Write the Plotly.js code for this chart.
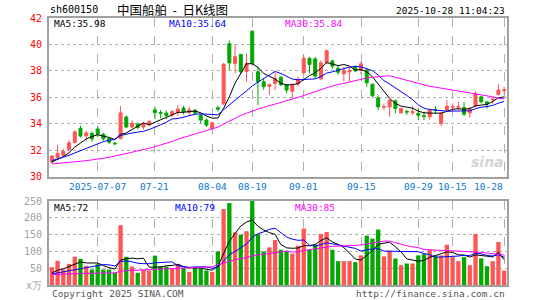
<!DOCTYPE html>
<html>
<head>
<meta charset="utf-8">
<script src="https://cdn.plot.ly/plotly-3.0.1.min.js"></script>
<style>
html,body{margin:0;padding:0;background:#fff;}
#chart{width:545px;height:300px;}
</style>
</head>
<body>
<div id="chart"></div>
<script>
// ---------- data ----------
const dates = [
'2025-06-25','2025-06-26','2025-06-27','2025-06-30','2025-07-01','2025-07-02','2025-07-03','2025-07-04','2025-07-07','2025-07-08',
'2025-07-09','2025-07-10','2025-07-11','2025-07-14','2025-07-15','2025-07-16','2025-07-17','2025-07-18','2025-07-21','2025-07-22',
'2025-07-23','2025-07-24','2025-07-25','2025-07-28','2025-07-29','2025-07-30','2025-07-31','2025-08-01','2025-08-04','2025-08-05',
'2025-08-06','2025-08-07','2025-08-08','2025-08-11','2025-08-12','2025-08-19','2025-08-20','2025-08-21','2025-08-22','2025-08-25',
'2025-08-26','2025-08-27','2025-08-28','2025-08-29','2025-09-01','2025-09-02','2025-09-03','2025-09-04','2025-09-05','2025-09-08',
'2025-09-09','2025-09-10','2025-09-11','2025-09-12','2025-09-15','2025-09-16','2025-09-17','2025-09-18','2025-09-19','2025-09-22',
'2025-09-23','2025-09-24','2025-09-25','2025-09-26','2025-09-29','2025-09-30','2025-10-09','2025-10-10','2025-10-13','2025-10-14',
'2025-10-15','2025-10-16','2025-10-17','2025-10-20','2025-10-21','2025-10-22','2025-10-23','2025-10-24','2025-10-27','2025-10-28'];

const open = [
31.10,31.45,31.60,32.05,32.58,33.65,33.08,33.26,33.60,33.20,
32.88,32.52,32.88,34.50,33.75,33.98,33.75,33.90,35.04,34.85,
34.80,34.66,34.85,35.18,34.85,35.02,34.65,34.27,33.64,35.20,
35.50,40.05,38.56,39.24,37.95,41.00,37.93,37.17,36.82,37.05,
37.52,36.93,36.45,37.02,37.85,38.95,38.90,37.40,38.61,38.75,
38.18,37.78,37.92,38.30,38.05,38.06,36.98,35.95,35.25,35.27,
35.73,34.82,34.92,34.82,34.77,34.60,34.52,35.05,34.00,35.02,
35.25,35.25,35.22,34.82,35.35,36.03,35.65,35.80,36.20,36.52];
const high = [
31.60,32.40,32.10,32.75,33.50,33.85,33.45,33.40,33.80,33.30,
32.97,32.60,35.33,34.62,34.25,34.08,34.15,34.28,35.29,35.04,
35.00,35.04,35.40,35.35,35.30,35.10,34.77,34.40,34.14,35.35,
38.60,40.30,40.02,39.30,39.30,41.08,38.30,37.42,37.05,37.90,
37.60,37.00,37.05,37.55,39.20,39.07,39.05,38.80,39.62,38.85,
38.45,38.30,38.30,38.40,38.70,38.18,37.05,36.16,35.53,35.83,
35.83,35.22,35.07,35.32,35.15,34.90,35.15,35.32,34.90,35.78,
35.53,35.65,35.65,35.27,36.48,36.08,35.70,36.00,37.00,36.80];
const low = [
30.95,31.35,31.50,31.95,32.50,32.96,32.65,32.62,33.00,32.70,
32.45,32.35,32.80,33.65,33.65,33.58,33.55,33.80,34.35,34.40,
34.35,34.50,34.60,34.70,34.60,34.70,34.02,33.76,33.50,34.90,
35.40,38.05,37.80,37.80,37.17,38.40,35.40,36.54,36.16,36.55,
36.85,36.30,35.90,36.80,37.80,37.80,37.42,37.30,38.50,38.15,
37.70,37.20,37.20,37.90,37.75,36.80,36.00,35.02,35.02,34.52,
34.77,34.77,34.64,34.64,34.26,34.26,34.31,34.77,33.80,34.90,
34.90,35.02,34.57,34.46,35.27,35.53,35.15,35.50,36.16,36.24];
const close = [
31.55,31.75,31.90,32.55,33.38,33.06,33.30,32.85,33.20,32.85,
32.60,32.48,34.82,33.75,34.02,33.72,33.95,34.15,34.84,34.80,
34.62,34.91,35.10,34.90,35.05,34.80,34.27,33.89,34.07,35.10,
38.50,38.60,39.07,37.93,38.56,38.56,37.17,36.80,36.95,37.42,
36.95,36.54,36.88,37.36,38.95,38.48,37.60,38.60,39.52,38.35,
37.90,38.03,38.00,38.00,38.53,37.10,36.12,35.27,35.30,35.78,
35.15,35.15,34.88,34.90,34.64,34.55,35.02,35.00,34.77,35.32,
35.30,35.30,34.72,35.10,36.28,35.65,35.50,35.85,36.54,36.56];
// volume, 万手
const volume = [
53,72,46,63,84,78,57,46,62,46,
46,37,178,84,55,36,46,43,87,56,
55,49,62,51,39,51,49,43,39,100,
226,244,157,150,160,256,151,100,112,134,
105,102,93,117,168,105,120,152,158,105,
71,71,71,68,88,147,138,165,85,102,
79,59,64,64,88,92,105,88,88,120,
83,71,83,59,152,79,56,71,128,43];

// moving-average values at the left edge (history before the window)
const ma5Lead  = [31.10,31.30,31.50,31.80];
const ma10Lead = [31.20,31.32,31.45,31.60,31.78,31.95,32.10,32.25,32.42];
const ma30Lead = [30.95,30.98,31.01,31.05,31.10,31.15,31.20,31.25,31.30,31.38,
                  31.46,31.54,31.64,31.74,31.84,31.93,32.02,32.14,32.26,32.38,
                  32.50,32.66,32.82,32.96,33.10,33.24,33.38,33.50,33.64];
const volMa5Lead  = [36,44,48,55];
const volMa10Lead = [33,36,39,42,46,50,53,56,58];
const volMa30Lead = [31,32,32,33,34,34.5,35,35,35.5,35.5,
                     36,36,41,43,44,44,45,45.5,47,48,
                     49,49.5,50.5,51,51.5,52,53,53.5,54];

const priceTicks = [30,32,34,36,38,40,42];
const priceTickText = ['30','32','34','36','38','40','42'];
const volTicks = [0,50,100,150,200,250];
const volTickText = ['x万','50','100','150','200','250'];
const gridDates = ['2025-07-07','2025-07-21','2025-08-04','2025-08-19','2025-09-01','2025-09-15','2025-09-29','2025-10-15','2025-10-28'];
const gridLabels = ['2025-07-07','07-21','08-04','08-19','09-01','09-15','09-29','10-15','10-28'];
const priceLegend = ['MA5:35.98','MA10:35.64','MA30:35.84'];
const volLegend = ['MA5:72','MA10:79','MA30:85'];
const titleCode = 'sh600150';
const titleName = '中国船舶\u00a0\u00a0-\u00a0\u00a0日K线图';
const titleTime = '2025-10-28 11:04:23';
const footLeft = 'Copyright 2025 SINA.COM';
const footRight = 'http://finance.sina.com.cn';

// ---------- helpers ----------
function movingAvg(vals, n, lead){
  return vals.map((v,i)=>{
    if(i < n-1) return lead[i];
    let s=0; for(let k=i-n+1;k<=i;k++) s+=vals[k];
    return s/n;
  });
}
const RED='#ff5555', GREEN='#00a800';
const MONO='DejaVu Sans Mono, monospace';
const volColors = close.map((c,i)=> c>=open[i] ? RED : GREEN);

const traces = [
  {type:'candlestick', x:dates, open:open, high:high, low:low, close:close,
   xaxis:'x', yaxis:'y', whiskerwidth:0, hoverinfo:'skip',
   increasing:{line:{color:RED,width:1}, fillcolor:RED},
   decreasing:{line:{color:GREEN,width:1}, fillcolor:GREEN}},
  {type:'scatter', mode:'lines', x:dates, y:movingAvg(close,5,ma5Lead), xaxis:'x', yaxis:'y', line:{color:'#000000',width:1}, hoverinfo:'skip'},
  {type:'scatter', mode:'lines', x:dates, y:movingAvg(close,10,ma10Lead), xaxis:'x', yaxis:'y', line:{color:'#0000ff',width:1}, hoverinfo:'skip'},
  {type:'scatter', mode:'lines', x:dates, y:movingAvg(close,30,ma30Lead), xaxis:'x', yaxis:'y', line:{color:'#ff00ff',width:1}, hoverinfo:'skip'},
  {type:'bar', x:dates, y:volume, xaxis:'x2', yaxis:'y2', marker:{color:volColors, line:{width:0}}, hoverinfo:'skip'},
  {type:'scatter', mode:'lines', x:dates, y:movingAvg(volume,5,volMa5Lead), xaxis:'x2', yaxis:'y2', line:{color:'#000000',width:1}, hoverinfo:'skip'},
  {type:'scatter', mode:'lines', x:dates, y:movingAvg(volume,10,volMa10Lead), xaxis:'x2', yaxis:'y2', line:{color:'#0000ff',width:1}, hoverinfo:'skip'},
  {type:'scatter', mode:'lines', x:dates, y:movingAvg(volume,30,volMa30Lead), xaxis:'x2', yaxis:'y2', line:{color:'#ff00ff',width:1}, hoverinfo:'skip'}
];

const H = 300, T = 18, B = 15;
const plotH = H - T - B;
const py = px => (H - B - px) / plotH;   // pixel y -> paper y
const L = 49, R = 507, plotW = R - L;
const pxX = px => (px - L) / plotW;      // pixel x -> paper x

const xCommon = {
  type:'category', range:[-0.5, dates.length-0.5], tickvals:gridDates, showticklabels:false,
  showgrid:true, gridcolor:'#b0b0b0', griddash:'dash', gridwidth:1,
  showline:true, mirror:true, linecolor:'#a0a0a0', linewidth:2, zeroline:false, ticks:'', fixedrange:true
};

const annotations = [];
gridDates.forEach((d,i)=>{
  annotations.push({x:d, xref:'x', y:py(186), yref:'paper', text:gridLabels[i], showarrow:false,
    xanchor:'center', yanchor:'middle', xshift: (i===gridDates.length-1 ? -16 : 0),
    font:{family:MONO, size:9.5, color:'#0a78d0'}});
});
const legColors = ['#000000','#0000ff','#ff00ff'];
const legX = [52, 167, 283];
const volLegX = [52, 173, 293];
priceLegend.forEach((t,i)=>annotations.push({x:pxX(legX[i]), xref:'paper', y:py(23.5), yref:'paper', text:t, showarrow:false, xanchor:'left', yanchor:'middle', font:{family:MONO,size:9.5,color:legColors[i]}}));
volLegend.forEach((t,i)=>annotations.push({x:pxX(volLegX[i]), xref:'paper', y:py(207), yref:'paper', text:t, showarrow:false, xanchor:'left', yanchor:'middle', font:{family:MONO,size:9.5,color:legColors[i]}}));
annotations.push({x:pxX(48), xref:'paper', y:py(10), yref:'paper', text:titleCode, showarrow:false, xanchor:'left', yanchor:'middle', font:{family:MONO,size:10,color:'#000'}});
annotations.push({x:pxX(115), xref:'paper', y:py(9.5), yref:'paper', text:titleName, showarrow:false, xanchor:'left', yanchor:'middle', font:{family:'Noto Sans CJK SC, sans-serif',size:12.5,color:'#000'}});
annotations.push({x:pxX(507), xref:'paper', y:py(11), yref:'paper', text:titleTime, showarrow:false, xanchor:'right', yanchor:'middle', font:{family:MONO,size:9.5,color:'#000'}});
annotations.push({x:pxX(50), xref:'paper', y:py(293), yref:'paper', text:footLeft, showarrow:false, xanchor:'left', yanchor:'middle', font:{family:MONO,size:9.5,color:'#555'}});
annotations.push({x:pxX(507), xref:'paper', y:py(293), yref:'paper', text:footRight, showarrow:false, xanchor:'right', yanchor:'middle', font:{family:MONO,size:9.5,color:'#555'}});
annotations.push({x:pxX(506), xref:'paper', y:py(162), yref:'paper', text:'<b><i>sina</i></b>', showarrow:false, xanchor:'right', yanchor:'middle', font:{family:'DejaVu Sans, sans-serif',size:14,color:'#d4d4d4'}});

const layout = {
  width:545, height:300,
  margin:{l:L, r:545-R, t:T, b:B, pad:0},
  paper_bgcolor:'#ffffff', plot_bgcolor:'#ffffff',
  showlegend:false,
  font:{family:MONO, size:9.5, color:'#000'},
  boxgap:0.25, bargap:0.25,
  xaxis: Object.assign({}, xCommon, {anchor:'y', rangeslider:{visible:false}}),
  xaxis2: Object.assign({}, xCommon, {anchor:'y2', matches:'x'}),
  yaxis: {domain:[py(176.5), 1], range:[30,42], tickvals:priceTicks, ticktext:priceTickText,
    tickfont:{family:MONO,size:10,color:'#ff0000'}, showgrid:true, gridcolor:'#b0b0b0', griddash:'dot', gridwidth:1,
    showline:true, mirror:true, linecolor:'#a0a0a0', linewidth:2, zeroline:false, ticks:'', ticklabelstandoff:3, fixedrange:true},
  yaxis2: {domain:[0, py(201)], range:[0,250], tickvals:volTicks, ticktext:volTickText,
    tickfont:{family:MONO,size:10,color:'#a0a0a0'}, showgrid:true, gridcolor:'#b0b0b0', griddash:'dot', gridwidth:1,
    showline:true, mirror:true, linecolor:'#a0a0a0', linewidth:2, zeroline:false, ticks:'', ticklabelstandoff:3, fixedrange:true},
  annotations: annotations
};

Plotly.newPlot('chart', traces, layout, {staticPlot:true, displayModeBar:false});
</script>
</body>
</html>
